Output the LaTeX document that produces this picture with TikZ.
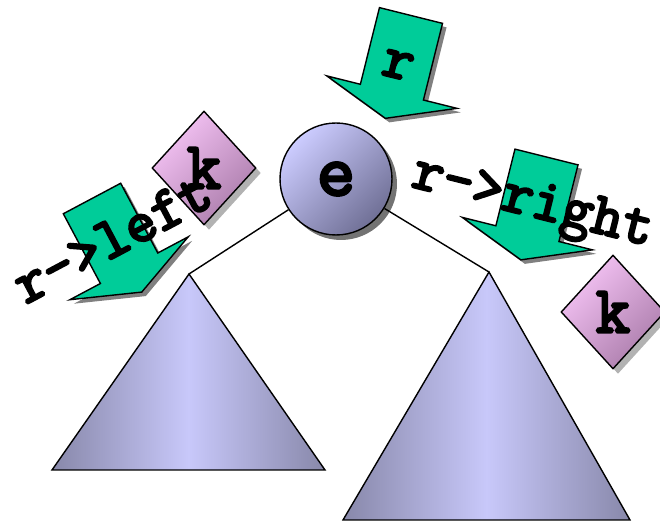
\documentclass[tikz,border=0pt]{standalone}
\usepackage{fontspec}
\setmonofont[AutoFakeBold=4]{Latin Modern Mono}
\usetikzlibrary{shapes.geometric,shadows}
\definecolor{arrowgreen}{RGB}{0,204,153}
\definecolor{trilight}{RGB}{200,200,250}
\definecolor{tridark}{RGB}{136,136,170}
\definecolor{nodelight}{RGB}{204,204,255}
\definecolor{nodedark}{RGB}{112,112,150}
\definecolor{keylight}{RGB}{246,196,246}
\definecolor{keydark}{RGB}{170,124,170}
\tikzset{
  ttbig/.style={font=\fontsize{#1}{#1}\selectfont\ttfamily\bfseries},
  ttbig/.default=34,
  arrowoutline/.style={insert path={(-32.5,0) -- (32.5,0) -- (32.5,79) -- (67,79) -- (0,106) -- (-67,79) -- (-32.5,79) -- cycle}},
  subtree/.style={draw=black,left color=tridark,right color=tridark,middle color=trilight},
  keybox/.style={diamond,draw,inner sep=0pt,minimum width=2.08cm,minimum height=2.28cm,
    top color=keylight,bottom color=keydark,shading angle=45,
    drop shadow={shadow xshift=1mm,shadow yshift=-1mm,fill=black!30,opacity=1},ttbig=38}
}
\begin{document}
\begin{tikzpicture}[x=0.02cm,y=-0.02cm,line width=0.8pt]
\useasboundingbox (0,0) rectangle (660,523);
\coordinate (lapex) at (189,274);
\coordinate (rapex) at (489,272);
\shade[subtree] (lapex) -- (325,470) -- (52,470) -- cycle;
\shade[subtree] (rapex) -- (630,520) -- (343,520) -- cycle;
\node[circle,draw,inner sep=0pt,minimum size=2.24cm,top color=nodelight,bottom color=nodedark,shading angle=45,
  drop shadow={shadow xshift=1mm,shadow yshift=-1mm,fill=black!55,opacity=1},ttbig=42] (e) at (336,179) {e};
\draw (e) -- (lapex);
\draw (e) -- (rapex);
\node[keybox] (kleft) at (204,168) {k};
\node[keybox] (kright) at (613,312) {k};
\foreach \x/\y/\a in {411/15.5/-14,92/198.5/28,546.5/157/-14}{
  \fill[black!50,shift={(\x+4,\y+4)},rotate=\a,arrowoutline];
  \draw[fill=arrowgreen,shift={(\x,\y)},rotate=\a,arrowoutline];
}
\node[ttbig,rotate=-14] (rtop) at (398,65) {r};
\node[ttbig,rotate=28] (rleft) at (112,238) {r->left};
\node[ttbig,rotate=-14] (rright) at (532,205) {r->right};
\end{tikzpicture}
\end{document}
